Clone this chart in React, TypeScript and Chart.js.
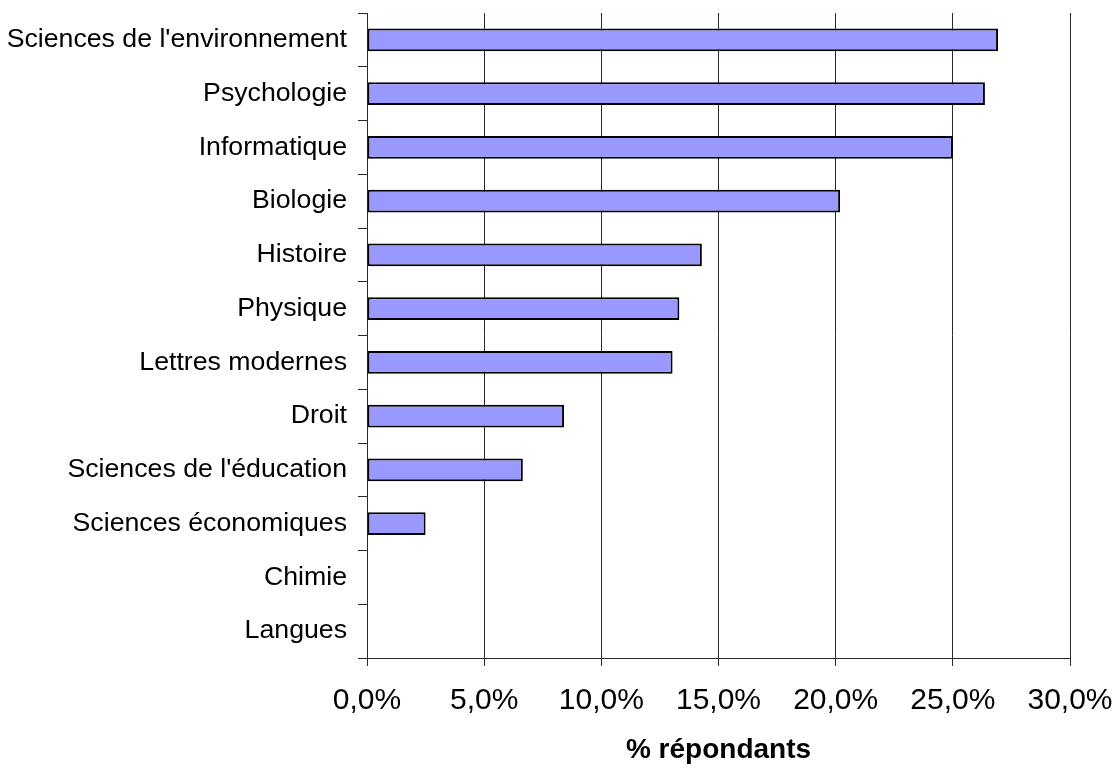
import React, { useEffect, useRef } from "react";
import { Chart, registerables } from "chart.js";

Chart.register(...registerables);

const categories = [
  "Sciences de l'environnement",
  "Psychologie",
  "Informatique",
  "Biologie",
  "Histoire",
  "Physique",
  "Lettres modernes",
  "Droit",
  "Sciences de l'éducation",
  "Sciences économiques",
  "Chimie",
  "Langues",
];

const percentValues = [26.93, 26.37, 25.0, 20.19, 14.29, 13.33, 13.04, 8.41, 6.65, 2.5, 0, 0];

const xMin = 0;
const xMax = 30;
const xStep = 5;
const xTitle = "% répondants";

export default function App() {
  const canvasRef = useRef<HTMLCanvasElement | null>(null);

  useEffect(() => {
    const canvas = canvasRef.current;
    if (!canvas) return;
    const font = "'Liberation Sans', Arial, sans-serif";
    const chart = new Chart(canvas, {
      type: "bar",
      data: {
        labels: categories,
        datasets: [
          {
            data: percentValues,
            backgroundColor: "#9999FF",
            borderColor: "#000000",
            borderWidth: 2,
            borderSkipped: false,
            categoryPercentage: 1,
            barPercentage: 0.42,
          },
        ],
      },
      options: {
        indexAxis: "y",
        responsive: false,
        animation: false,
        events: [],
        layout: { padding: { top: 13, right: 50, bottom: 0, left: 0 } },
        plugins: {
          legend: { display: false },
          tooltip: { enabled: false },
          title: { display: false },
        },
        scales: {
          x: {
            type: "linear",
            min: xMin,
            max: xMax,
            ticks: {
              stepSize: xStep,
              color: "#000",
              padding: 17,
              font: { family: font, size: 30 },
              callback: (v: any) => Number(v).toFixed(1).replace(".", ",") + "%",
            },
            grid: {
              color: "#2a2a2a",
              lineWidth: 1,
              drawTicks: true,
              tickLength: 8,
              tickColor: "#2a2a2a",
            },
            border: { display: true, color: "#2a2a2a", width: 1 },
            title: {
              display: true,
              text: xTitle,
              color: "#000",
              font: { family: font, size: 28, weight: "bold" },
              padding: { top: 0, bottom: 2 },
            },
            afterFit: (scale: any) => {
              scale.height = 111;
              scale.paddingRight = 0;
            },
          },
          y: {
            type: "category",
            ticks: {
              color: "#000",
              padding: 11,
              font: { family: font, size: 26.7 },
            },
            grid: {
              offset: true,
              drawOnChartArea: false,
              drawTicks: true,
              tickLength: 9,
              tickColor: "#2a2a2a",
            },
            border: { display: true, color: "#2a2a2a", width: 1 },
            afterFit: (scale: any) => {
              scale.width = 367;
              scale.paddingTop = 0;
              scale.paddingBottom = 0;
            },
          },
        },
      },
    });
    return () => chart.destroy();
  }, []);

  return (
    <div style={{ position: "absolute", left: 0, top: 0, width: 1120, height: 769, background: "#fff" }}>
      <canvas ref={canvasRef} width={1120} height={769} style={{ display: "block" }} />
    </div>
  );
}
